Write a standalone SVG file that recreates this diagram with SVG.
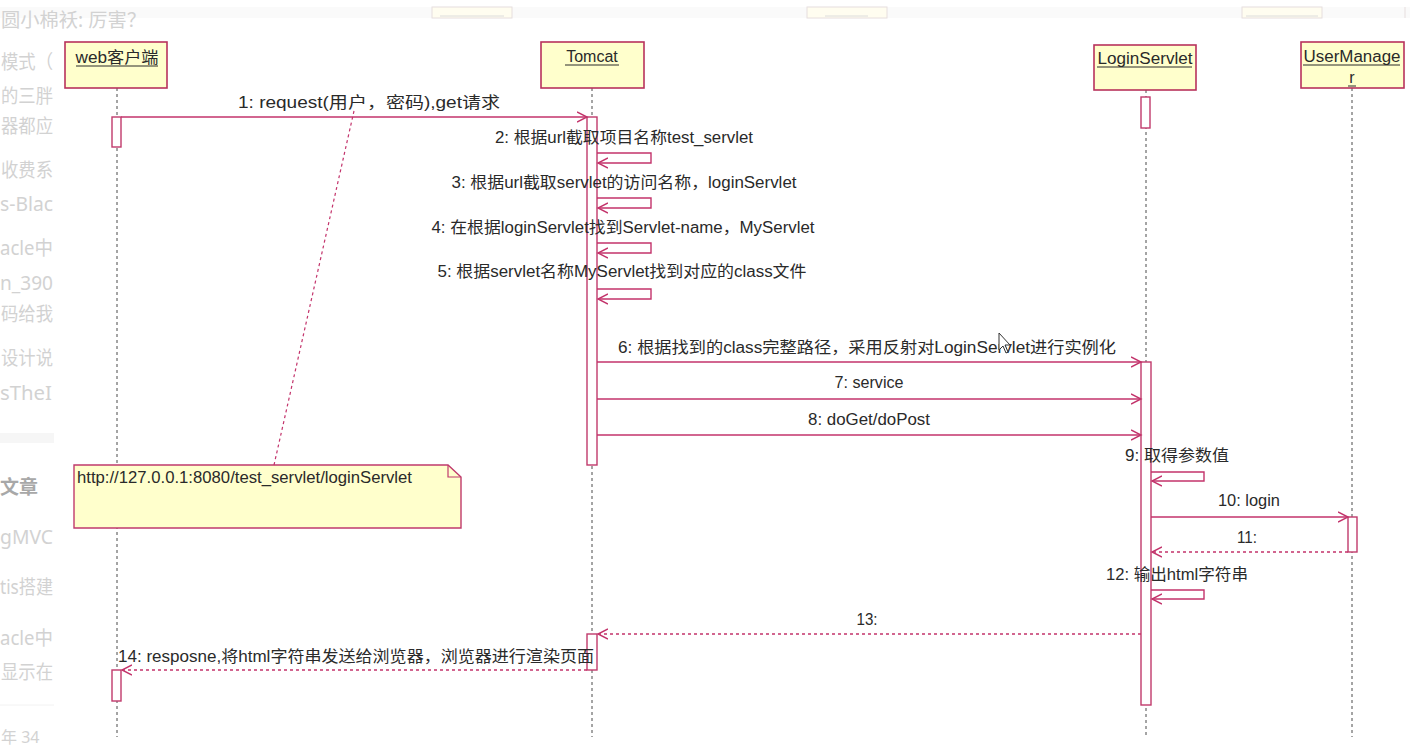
<svg xmlns="http://www.w3.org/2000/svg" width="1410" height="751" viewBox="0 0 1410 751">
<style>
.bg{font-family:"Noto Sans","Liberation Sans","Noto Sans CJK SC",sans-serif;font-size:19px;fill:#d2d2d2}
.actor{fill:#ffffcc;stroke:#b8325c;stroke-width:1.6}
.aname{font-family:"Liberation Sans","Noto Sans CJK SC",sans-serif;font-size:16px;fill:#2a2a2a;text-anchor:middle}
.ul{stroke:#2a2a2a;stroke-width:1}
.life{stroke:#4a4a4a;stroke-width:1;stroke-dasharray:3 3;fill:none}
.act{fill:#ffffff;stroke:#c03a6c;stroke-width:1.4}
.msg{stroke:#c3336b;stroke-width:1.4;fill:none}
.ret{stroke:#c3336b;stroke-width:1.4;fill:none;stroke-dasharray:3 3}
.lbl{font-family:"Liberation Sans","Noto Sans CJK SC",sans-serif;font-size:16px;fill:#2a2a2a;text-anchor:middle}
.note{fill:#ffffcc;stroke:#c03a6c;stroke-width:1.4}
</style>
<defs>
<marker id="open" markerUnits="userSpaceOnUse" markerWidth="12" markerHeight="12" refX="10" refY="5" orient="auto" viewBox="0 0 12 10">
<path d="M0,0 L10,5 L0,10" fill="none" stroke="#c3336b" stroke-width="1.4"/>
</marker>
</defs>
<rect x="0" y="0" width="1410" height="751" fill="#ffffff"/>

<g id="background">
<rect x="0" y="7" width="1410" height="11" fill="#fafafa"/>
<rect x="432" y="7" width="80" height="11" fill="#fffdf0" stroke="#e6dede" stroke-width="1"/>
<line x1="440" y1="16" x2="504" y2="16" stroke="#dcdcdc"/>
<rect x="807" y="7" width="80" height="11" fill="#fffdf0" stroke="#e6dede" stroke-width="1"/>
<line x1="825" y1="16" x2="868" y2="16" stroke="#dcdcdc"/>
<rect x="1242" y="7" width="80" height="11" fill="#fffdf0" stroke="#e6dede" stroke-width="1"/>
<line x1="1246" y1="16" x2="1318" y2="16" stroke="#dcdcdc"/>
<line x1="1405" y1="7" x2="1405" y2="18" stroke="#e6dede"/>
<rect x="0" y="433" width="54" height="10" fill="#f6f6f6"/>
<line x1="0" y1="705" x2="54" y2="705" stroke="#f2f2f2"/>
<g class="bg">
<text x="1" y="27" textLength="145" lengthAdjust="spacingAndGlyphs">圆小棉袄: 厉害？</text>
<text x="1" y="69" textLength="52" lengthAdjust="spacingAndGlyphs">模式（</text>
<text x="1" y="103" textLength="52" lengthAdjust="spacingAndGlyphs">的三胖</text>
<text x="1" y="133" textLength="52" lengthAdjust="spacingAndGlyphs">器都应</text>
<text x="1" y="177" textLength="52" lengthAdjust="spacingAndGlyphs">收费系</text>
<text x="0" y="211" textLength="53" lengthAdjust="spacingAndGlyphs">s-Blac</text>
<text x="0" y="255" textLength="53" lengthAdjust="spacingAndGlyphs">acle中</text>
<text x="0" y="290" textLength="53" lengthAdjust="spacingAndGlyphs">n_390</text>
<text x="1" y="321" textLength="52" lengthAdjust="spacingAndGlyphs">码给我</text>
<text x="1" y="365" textLength="52" lengthAdjust="spacingAndGlyphs">设计说</text>
<text x="0" y="400" textLength="52" lengthAdjust="spacingAndGlyphs">sTheI</text>
<text x="0" y="494" style="font-weight:bold;fill:#a8a8a8" textLength="38" lengthAdjust="spacingAndGlyphs">文章</text>
<text x="0" y="544" textLength="53" lengthAdjust="spacingAndGlyphs">gMVC</text>
<text x="0" y="594" textLength="53" lengthAdjust="spacingAndGlyphs">tis搭建</text>
<text x="0" y="645" textLength="53" lengthAdjust="spacingAndGlyphs">acle中</text>
<text x="1" y="679" textLength="52" lengthAdjust="spacingAndGlyphs">显示在</text>
<text x="1" y="743" style="font-size:16px">年 34</text>
</g>
</g>

<g id="lifelines">
<line class="life" x1="117" y1="88" x2="117" y2="737"/>
<line class="life" x1="592" y1="88" x2="592" y2="737"/>
<line class="life" x1="1146" y1="90" x2="1146" y2="737"/>
<line class="life" x1="1352" y1="88" x2="1352" y2="737"/>
</g>

<g id="web">
<rect class="actor" x="65" y="42" width="102" height="46"/>
<text class="aname" x="117" y="63" textLength="83" lengthAdjust="spacingAndGlyphs">web客户端</text>
<line class="ul" x1="76" y1="66" x2="158" y2="66"/>
</g>
<g id="tomcat">
<rect class="actor" x="541" y="42" width="103" height="46"/>
<text class="aname" x="592" y="62">Tomcat</text>
<line class="ul" x1="565" y1="65" x2="619" y2="65"/>
</g>
<g id="loginservlet">
<rect class="actor" x="1094" y="45" width="102" height="45"/>
<text class="aname" x="1145" y="64" textLength="95" lengthAdjust="spacingAndGlyphs">LoginServlet</text>
<line class="ul" x1="1097" y1="67" x2="1192" y2="67"/>
</g>
<g id="usermanager">
<rect class="actor" x="1301" y="42" width="103" height="46"/>
<text class="aname" x="1352" y="62" textLength="97" lengthAdjust="spacingAndGlyphs">UserManage</text>
<line class="ul" x1="1303" y1="65" x2="1400" y2="65"/>
<text class="aname" x="1352" y="83">r</text>
<line class="ul" x1="1348" y1="86" x2="1356" y2="86"/>
</g>

<g id="activations">
<rect class="act" x="112" y="117" width="9" height="30"/>
<rect class="act" x="587" y="117" width="10" height="348"/>
<rect class="act" x="1141" y="97" width="9" height="31"/>
<rect class="act" x="1141" y="362" width="10" height="343"/>
<rect class="act" x="1348" y="517" width="9" height="35"/>
<rect class="act" x="587" y="634" width="10" height="36"/>
<rect class="act" x="112" y="670" width="9" height="31"/>
</g>

<g id="note">
<path class="note" d="M74,465 L448,465 L461,477 L461,528 L74,528 Z"/>
<path d="M448,465 L448,477 L461,477" fill="none" stroke="#c03a6c" stroke-width="1.2"/>
<text x="77" y="483" style="font-family:'Liberation Sans',sans-serif;font-size:16px;fill:#2a2a2a" textLength="335" lengthAdjust="spacingAndGlyphs">http://127.0.0.1:8080/test_servlet/loginServlet</text>
</g>

<g id="connectors">
<line x1="274" y1="465" x2="354" y2="111" stroke="#c3336b" stroke-width="1.2" stroke-dasharray="3 3"/>
<line class="msg" x1="121" y1="117" x2="587" y2="117" marker-end="url(#open)"/>
<path class="msg" d="M597,153 L651,153 L651,163 L598,163" marker-end="url(#open)"/>
<path class="msg" d="M597,198 L651,198 L651,208 L598,208" marker-end="url(#open)"/>
<path class="msg" d="M597,243 L651,243 L651,253 L598,253" marker-end="url(#open)"/>
<path class="msg" d="M597,289 L651,289 L651,299 L598,299" marker-end="url(#open)"/>
<line class="msg" x1="597" y1="362" x2="1141" y2="362" marker-end="url(#open)"/>
<line class="msg" x1="597" y1="399" x2="1141" y2="399" marker-end="url(#open)"/>
<line class="msg" x1="597" y1="435" x2="1141" y2="435" marker-end="url(#open)"/>
<path class="msg" d="M1151,472 L1204,472 L1204,481 L1152,481" marker-end="url(#open)"/>
<line class="msg" x1="1151" y1="517" x2="1348" y2="517" marker-end="url(#open)"/>
<line class="ret" x1="1348" y1="552" x2="1152" y2="552" marker-end="url(#open)"/>
<path class="msg" d="M1151,590 L1204,590 L1204,599 L1152,599" marker-end="url(#open)"/>
<line class="ret" x1="1141" y1="634" x2="598" y2="634" marker-end="url(#open)"/>
<line class="ret" x1="587" y1="670" x2="122" y2="670" marker-end="url(#open)"/>
</g>

<g id="labels">
<text class="lbl" x="369" y="108" textLength="262" lengthAdjust="spacingAndGlyphs">1: request(用户，密码),get请求</text>
<text class="lbl" x="624" y="143" textLength="258" lengthAdjust="spacingAndGlyphs">2: 根据url截取项目名称test_servlet</text>
<text class="lbl" x="624" y="188" textLength="345" lengthAdjust="spacingAndGlyphs">3: 根据url截取servlet的访问名称，loginServlet</text>
<text class="lbl" x="623" y="233" textLength="383" lengthAdjust="spacingAndGlyphs">4: 在根据loginServlet找到Servlet-name，MyServlet</text>
<text class="lbl" x="622" y="277" textLength="369" lengthAdjust="spacingAndGlyphs">5: 根据servlet名称MyServlet找到对应的class文件</text>
<text class="lbl" x="867" y="353" textLength="498" lengthAdjust="spacingAndGlyphs">6: 根据找到的class完整路径，采用反射对LoginServlet进行实例化</text>
<text class="lbl" x="869" y="388" textLength="69" lengthAdjust="spacingAndGlyphs">7: service</text>
<text class="lbl" x="869" y="425" textLength="122" lengthAdjust="spacingAndGlyphs">8: doGet/doPost</text>
<text class="lbl" x="1177" y="461" textLength="104" lengthAdjust="spacingAndGlyphs">9: 取得参数值</text>
<text class="lbl" x="1249" y="506" textLength="62" lengthAdjust="spacingAndGlyphs">10: login</text>
<text class="lbl" x="1247" y="543" textLength="20" lengthAdjust="spacingAndGlyphs">11:</text>
<text class="lbl" x="1177" y="580" textLength="142" lengthAdjust="spacingAndGlyphs">12: 输出html字符串</text>
<text class="lbl" x="867" y="625" textLength="21" lengthAdjust="spacingAndGlyphs">13:</text>
<text class="lbl" x="356" y="662" textLength="476" lengthAdjust="spacingAndGlyphs">14: resposne,将html字符串发送给浏览器，浏览器进行渲染页面</text>
</g>

<g id="cursor">
<path d="M999,333 L999,350 L1003,346 L1006,353 L1008,352 L1005,345 L1010,345 Z" fill="#ffffff" stroke="#333333" stroke-width="1"/>
</g>
</svg>
